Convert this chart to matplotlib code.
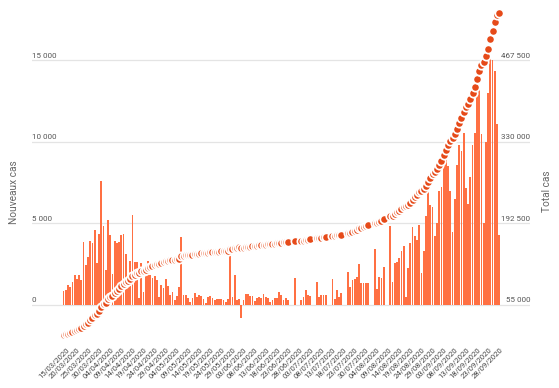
import numpy as np
import matplotlib
matplotlib.use("Agg")
import matplotlib.pyplot as plt
import matplotlib.transforms as mtransforms

plt.rcParams["font.family"] = ["Roboto", "DejaVu Sans"]

# daily new cases, 14/03/2020 -> 28/09/2020 (25/07 and 26/07 absent, None = not reported)
new_cases = [
    838, 924, 1210, 1097, 1404, 1861, 1617, 1847, 1559, 3838,
    2446, 2931, 3922, 3809, 4611, 2599, 4376, 7578, 4861, 2116,
    5233, 4267, 1873, 3912, 3777, 3881, 4286, 4342, 3114, 1613,
    2673, 5497, 2633, 2641, 405, 2569, 785, 2051, 2667, 1827,
    1653, 1773, 1537, 461, 1195, 1065, 1607, 1139, 604, 794,
    308, 576, 1104, 4183, 629, 642, 433, 209, 456, 708,
    507, 622, 563, 372, 120, 492, 524, 418, 318, 393,
    365, 358, 276, 191, 376, 3000, 500, 1840, 300, 350,
    -780, 300, 670, 670, 570, 550, 270, 400, 500, 400,
    700, 500, 420, 160, 300, 450, 450, 780, 600, 300,
    450, 300, None, None, 1630, None, None, 300, 500, 920,
    600, 570, None, None, 1390, 470, 630, 630, 630, None,
    None, 1600, 350, 920, 500, 750, None, None, 2040, 1120,
    1530, 1600, 1730, 2500, 1330, 1370, 1370, 1330, None, None,
    3400, 1000, 1700, 1630, 2300, None, None, 4860, 1390, 2550,
    2650, 2900, 3300, 3600, 500, 2240, 3780, 4750, 4200, 4000,
    4900, 1950, 3330, 5470, 7000, 6100, 6000, 4200, 5000, 7000,
    7200, 8600, 9000, 8500, 7000, 4500, 6500, 8600, 9800, 9400,
    10550, 7140, 6180, 7860, 9800, 10550, 12900, 13300, 10500, 5000,
    10000, 13000, 15300, 15000, 14300, 11100, 4300,
]

# cumulative total cases, same days
total_cases = [
    4499, 5423, 6633, 7730, 9134, 10995, 12612, 14459, 16018, 19856,
    22302, 25233, 29155, 32964, 37575, 40174, 44550, 52128, 56989, 59105,
    64338, 68605, 70478, 74390, 78167, 82048, 86334, 90676, 93790, 95403,
    98076, 103573, 106206, 108847, 109252, 111821, 112606, 114657, 117324, 119151,
    120804, 122577, 124114, 124575, 125770, 126835, 128442, 129581, 130185, 130979,
    131287, 131863, 132967, 137150, 137779, 138421, 138854, 139063, 139519, 140227,
    140734, 141356, 141919, 142291, 142411, 142903, 143427, 143845, 144163, 144556,
    144921, 145279, 145555, 145746, 146122, 149122, 149622, 151462, 151762, 152112,
    151332, 151600, 152300, 152900, 153500, 154100, 154300, 154700, 155200, 155600,
    156300, 156800, 157300, 157400, 157700, 158200, 158600, 159400, 160000, 160300,
    160700, 161000, None, None, 162700, None, None, 163000, 163500, 164400,
    165000, 165600, None, None, 167000, 167400, 168100, 168700, 169300, None,
    None, 170900, 171300, 172200, 172700, 173400, None, None, 175500, 176600,
    178100, 179700, 181500, 184000, 185300, 186700, 188000, 189400, None, None,
    192800, 193800, 195500, 197100, 199400, None, None, 204200, 205600, 208200,
    210800, 213700, 217000, 220600, 221100, 223400, 227200, 231900, 236100, 240100,
    245000, 247000, 250300, 255800, 262800, 268900, 274900, 279100, 284100, 291100,
    298300, 306900, 315900, 324400, 331400, 335900, 342400, 351000, 360800, 370200,
    380700, 387800, 394000, 401900, 411700, 422200, 435100, 448400, 458900, 463900,
    473900, 486900, 502200, 517200, 531500, 542600, 546900,
]

tick_labels = [
    "15/03/2020", "20/03/2020", "25/03/2020", "30/03/2020", "04/04/2020",
    "09/04/2020", "14/04/2020", "19/04/2020", "24/04/2020", "29/04/2020",
    "04/05/2020", "09/05/2020", "14/05/2020", "19/05/2020", "24/05/2020",
    "29/05/2020", "03/06/2020", "08/06/2020", "13/06/2020", "18/06/2020",
    "23/06/2020", "28/06/2020", "03/07/2020", "08/07/2020", "13/07/2020",
    "18/07/2020", "23/07/2020", "30/07/2020", "04/08/2020", "09/08/2020",
    "14/08/2020", "19/08/2020", "24/08/2020", "29/08/2020", "03/09/2020",
    "08/09/2020", "13/09/2020", "18/09/2020", "23/09/2020", "28/09/2020",
]

left_ticks = [0, 5000, 10000, 15000]
left_tick_text = ["0", "5 000", "10 000", "15 000"]
right_ticks = [55000, 192500, 330000, 467500]
right_tick_text = ["55 000", "192 500", "330 000", "467 500"]

BAR = "#ff7043"
DOT = "#e64a19"
GRID = "#e4e4e4"
TXT = "#555555"

W, H = 559, 388
fig = plt.figure(figsize=(W / 100, H / 100), dpi=100)
ax = fig.add_axes([32 / W, 1 - 341 / H, 498 / W, 330 / H])

x = np.arange(len(new_cases))
daily = np.array([np.nan if v is None else v for v in new_cases], dtype=float)
total = np.array([np.nan if v is None else v for v in total_cases], dtype=float)

ax.set_xlim(-14.17, 209.85)
ylo, yhi = -2205, 18004
ax.set_ylim(ylo, yhi)

for t in left_ticks:
    ax.axhline(t, color=GRID, lw=0.9, zorder=0)

ax.bar(x, np.nan_to_num(daily), width=0.8, color=BAR, linewidth=0, zorder=2)

# right axis follows the left one: 55 000 sits on 0, 137 500 per 5 000
ax2 = ax.twinx()
scale = (right_ticks[1] - right_ticks[0]) / (left_ticks[1] - left_ticks[0])
ax2.set_ylim(right_ticks[0] + ylo * scale, right_ticks[0] + yhi * scale)
ax2.plot(x, total, "o", ls="none", ms=6.0, mfc=DOT, mec="white", mew=1.25,
         clip_on=False, zorder=3)

for a in (ax, ax2):
    for s in a.spines.values():
        s.set_visible(False)
    a.set_yticks([])
ax2.set_xticks([])

ax.set_xticks(x[1::5])
ax.set_xticklabels(tick_labels, rotation=45, ha="right", rotation_mode="anchor",
                   fontsize=5.5, color="#444444")
ax.tick_params(axis="x", length=0, pad=4)

lt = mtransforms.offset_copy(mtransforms.blended_transform_factory(ax.transAxes, ax.transData),
                             fig=fig, y=2.5, units="dots")
for t, s in zip(left_ticks, left_tick_text):
    ax.text(0, t, s, transform=lt, ha="left", va="baseline", fontsize=5.8, color=TXT)
rt = mtransforms.offset_copy(mtransforms.blended_transform_factory(ax2.transAxes, ax2.transData),
                             fig=fig, y=2.5, units="dots")
for t, s in zip(right_ticks, right_tick_text):
    ax2.text(1, t, s, transform=rt, ha="right", va="baseline", fontsize=5.8, color=TXT)

fig.text(14 / W, 1 - 192 / H, "Nouveaux cas", rotation=90, ha="center", va="center",
         fontsize=7.3, color="#666666")
fig.text(547 / W, 1 - 191 / H, "Total cas", rotation=90, ha="center", va="center",
         fontsize=7.3, color="#666666")

fig.savefig("out.png", dpi=100)
